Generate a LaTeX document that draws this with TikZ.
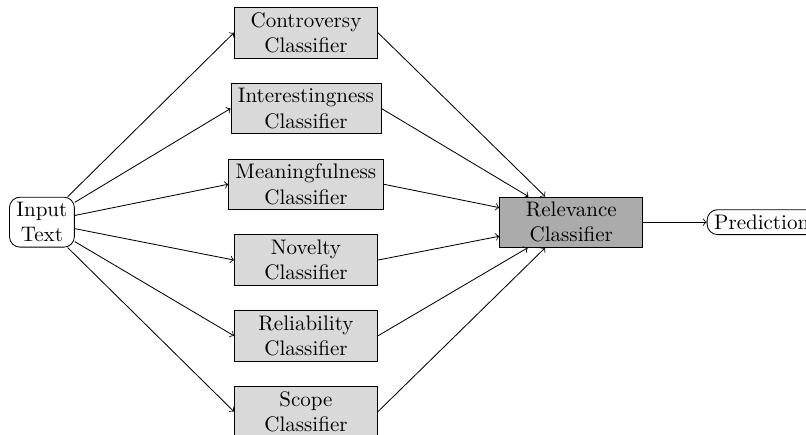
\documentclass[tikz,border=0pt]{standalone}
\usetikzlibrary{positioning}
\begin{document}
\begin{tikzpicture}[
    clf/.style={draw,fill=black!15,align=center,inner ysep=2.4pt,minimum width=2.39cm},
    rel/.style={clf,fill=black!33},
    io/.style={draw,rounded corners=5pt,align=center,inner ysep=2.4pt}]

% Fix the frame (the right and bottom edges cut the picture).
\useasboundingbox (-0.70,-3.54) rectangle (12.76,3.71);

% Input, relevance and prediction.
\node[io] (input) at (0,0) {Input\\Text};
\node[rel] (relevance) at (8.84,0) {Relevance\\Classifier};
\node[io,right=1.06cm of relevance] (prediction) {Prediction};

\draw[->] (relevance) -- (prediction);

% Loop for each classifier.
\foreach \n/\t/\y in {contr/Controversy/3.164,inter/Interestingness/1.898,
    mean/Meaningfulness/0.633,novel/Novelty/-0.633,
    reli/Reliability/-1.898,scope/Scope/-3.164} {

    % Draw the classifier box.
    \node[clf] (\n) at (4.41,\y) {\t\\Classifier};

    % Connect input to it, and it to relevance.
    \draw[->] (input) -- (\n.west);
    \draw[->] (\n.east) -- (relevance);
}
\end{tikzpicture}
\end{document}
